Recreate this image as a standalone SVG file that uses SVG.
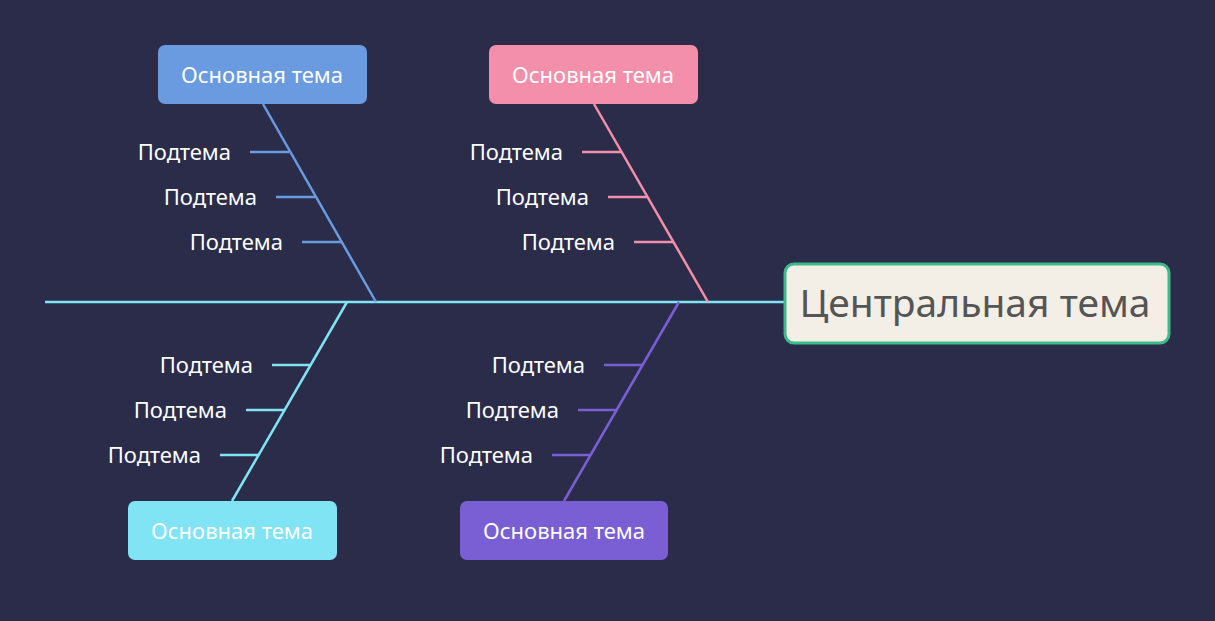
<svg xmlns="http://www.w3.org/2000/svg" width="1215" height="621" viewBox="0 0 1215 621">
<style>
.t{font-family:"Noto Sans","Open Sans",sans-serif;font-size:22px;fill:#ffffff}
.s{font-family:"Noto Sans","Open Sans",sans-serif;font-size:22px;fill:#ffffff;text-anchor:end}
.m{text-anchor:middle}
line{stroke-width:2.5;fill:none}
.b{stroke:#6a9ae0}.p{stroke:#f48fab}.c{stroke:#80e4f4}.v{stroke:#7a5ed4}
</style>
<rect width="1215" height="621" fill="#2a2c4a"/>
<g id="connectors">
<line x1="45" y1="302" x2="785" y2="302" class="c"/>
<line x1="263" y1="104" x2="376" y2="302" class="b"/>
<line x1="250" y1="152" x2="289" y2="152" class="b"/>
<line x1="276" y1="197" x2="315" y2="197" class="b"/>
<line x1="302" y1="242" x2="341" y2="242" class="b"/>
<line x1="594" y1="104" x2="708" y2="302" class="p"/>
<line x1="582" y1="152" x2="621" y2="152" class="p"/>
<line x1="608" y1="197" x2="647" y2="197" class="p"/>
<line x1="634" y1="242" x2="673" y2="242" class="p"/>
<line x1="347" y1="302" x2="232" y2="501" class="c"/>
<line x1="272" y1="365" x2="311" y2="365" class="c"/>
<line x1="246" y1="410" x2="285" y2="410" class="c"/>
<line x1="220" y1="455" x2="259" y2="455" class="c"/>
<line x1="679" y1="302" x2="564" y2="501" class="v"/>
<line x1="604" y1="365" x2="642" y2="365" class="v"/>
<line x1="578" y1="410" x2="616" y2="410" class="v"/>
<line x1="552" y1="455" x2="590" y2="455" class="v"/>
</g>
<g id="central"><rect x="785" y="264" width="384" height="79" rx="9" fill="#f3efe6" stroke="#3dba8a" stroke-width="3"/>
<text x="975" y="317" class="m" font-family="Noto Sans,Open Sans,sans-serif" font-size="39" fill="#555555">Центральная тема</text></g>
<g id="main1"><rect x="158" y="45" width="209" height="59" rx="7" fill="#6a9ae0"/><text x="262" y="83" class="t m">Основная тема</text></g>
<g id="main2"><rect x="489" y="45" width="209" height="59" rx="7" fill="#f48fab"/><text x="593" y="83" class="t m">Основная тема</text></g>
<g id="main3"><rect x="128" y="501" width="209" height="59" rx="7" fill="#80e4f4"/><text x="232" y="539" class="t m">Основная тема</text></g>
<g id="main4"><rect x="460" y="501" width="208" height="59" rx="7" fill="#7a5ed4"/><text x="564" y="539" class="t m">Основная тема</text></g>
<g id="subs">
<text x="231" y="160" class="s">Подтема</text><text x="257" y="205" class="s">Подтема</text><text x="283" y="250" class="s">Подтема</text>
<text x="563" y="160" class="s">Подтема</text><text x="589" y="205" class="s">Подтема</text><text x="615" y="250" class="s">Подтема</text>
<text x="253" y="373" class="s">Подтема</text><text x="227" y="418" class="s">Подтема</text><text x="201" y="463" class="s">Подтема</text>
<text x="585" y="373" class="s">Подтема</text><text x="559" y="418" class="s">Подтема</text><text x="533" y="463" class="s">Подтема</text>
</g>
</svg>
